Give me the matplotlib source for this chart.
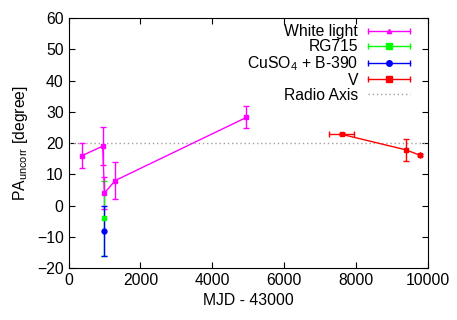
import matplotlib
matplotlib.use("Agg")
import matplotlib.pyplot as plt
from matplotlib.lines import Line2D
from matplotlib.legend_handler import HandlerBase

plt.rcParams['font.family'] = ['Liberation Sans', 'DejaVu Sans']
plt.rcParams['mathtext.fontset'] = 'custom'
plt.rcParams['mathtext.rm'] = 'Liberation Sans'
plt.rcParams['mathtext.it'] = 'Liberation Sans:italic'
plt.rcParams['font.size'] = 11.3

# White light
wl_x = [380, 950, 1000, 1300, 4950]
wl_y = [16, 19, 4, 8, 28.2]
wl_err = [4, 6, 5, 6, 3.5]
# RG715
rg_x = [1000]
rg_y = [-4]
rg_err = [12]
# CuSO4 + B-390
cu_x = [1000]
cu_y = [-8]
cu_err = [8]
# V
v_x = [7600, 9400, 9780]
v_y = [22.8, 17.8, 16.1]
v_yerr = [0.3, 3.4, 0.3]
v_xerr = [350, 0, 0]
radio_axis = 20

fig = plt.figure(figsize=(4.57, 3.2), dpi=100)
ax = fig.add_axes([0.150, 0.1625, 0.786, 0.781])

c_wl = '#ff00ff'
c_rg = '#00ff00'
c_cu = '#0000ff'
c_v = '#ff0000'

ax.axhline(radio_axis, color='#a0a0a0', ls=(0, (1, 2)), lw=1)
ax.errorbar(wl_x, wl_y, yerr=wl_err, color=c_wl, marker='s', ms=2.2, lw=1, capsize=2.5, elinewidth=1)
ax.errorbar(rg_x, rg_y, yerr=rg_err, color=c_rg, marker='s', ms=3.5, lw=1, capsize=2.5, elinewidth=1)
ax.errorbar(cu_x, cu_y, yerr=cu_err, color=c_cu, marker='o', ms=3.5, lw=1, capsize=2.5, elinewidth=1)
ax.errorbar(v_x, v_y, yerr=v_yerr, xerr=v_xerr, color=c_v, marker='s', ms=3.5, lw=1, capsize=2.5, elinewidth=1)

ax.set_xlim(0, 10000)
ax.set_ylim(-20, 60)
ax.set_xticks([0, 2000, 4000, 6000, 8000, 10000])
ax.set_yticks([-20, -10, 0, 10, 20, 30, 40, 50, 60])
ax.tick_params(direction='in', top=True, right=True, length=4, width=0.8)
ax.set_xlabel('MJD - 43000', labelpad=4)
ax.set_ylabel(r'PA$_{\rm uncorr}$ [degree]', labelpad=5)


class ErrHandler(HandlerBase):
    def __init__(self, color, marker, ms, dotted=False):
        super().__init__()
        self.color = color
        self.marker = marker
        self.ms = ms
        self.dotted = dotted

    def create_artists(self, legend, orig_handle, xdescent, ydescent, width, height, fontsize, trans):
        y = height / 2 - ydescent
        x0, x1 = -xdescent, -xdescent + width
        arts = []
        if self.dotted:
            arts.append(Line2D([x0, x1], [y, y], color='#a0a0a0', ls=(0, (1, 2)), lw=1, transform=trans))
            return arts
        arts.append(Line2D([x0, x1], [y, y], color=self.color, lw=1, transform=trans))
        arts.append(Line2D([x0, x1], [y, y], color=self.color, lw=0, marker='|', ms=5, transform=trans))
        arts.append(Line2D([(x0 + x1) / 2], [y], color=self.color, lw=0, marker=self.marker, ms=self.ms, transform=trans))
        return arts


labels = ['White light', 'RG715', r'CuSO$_4$ + B-390', 'V', 'Radio Axis']
handles = [Line2D([], []) for _ in labels]
hmap = {
    handles[0]: ErrHandler(c_wl, '^', 3),
    handles[1]: ErrHandler(c_rg, 's', 4),
    handles[2]: ErrHandler(c_cu, 'o', 4),
    handles[3]: ErrHandler(c_v, 's', 4),
    handles[4]: ErrHandler(None, None, 0, dotted=True),
}
ax.legend(handles, labels, handler_map=hmap, loc='upper right', frameon=False,
          markerfirst=False, labelspacing=0.0, handlelength=2.7, handletextpad=0.6,
          borderaxespad=0, borderpad=0,
          bbox_to_anchor=(410 / 457, 1 - 24 / 320), bbox_transform=fig.transFigure)

fig.savefig('out.png', dpi=100)
